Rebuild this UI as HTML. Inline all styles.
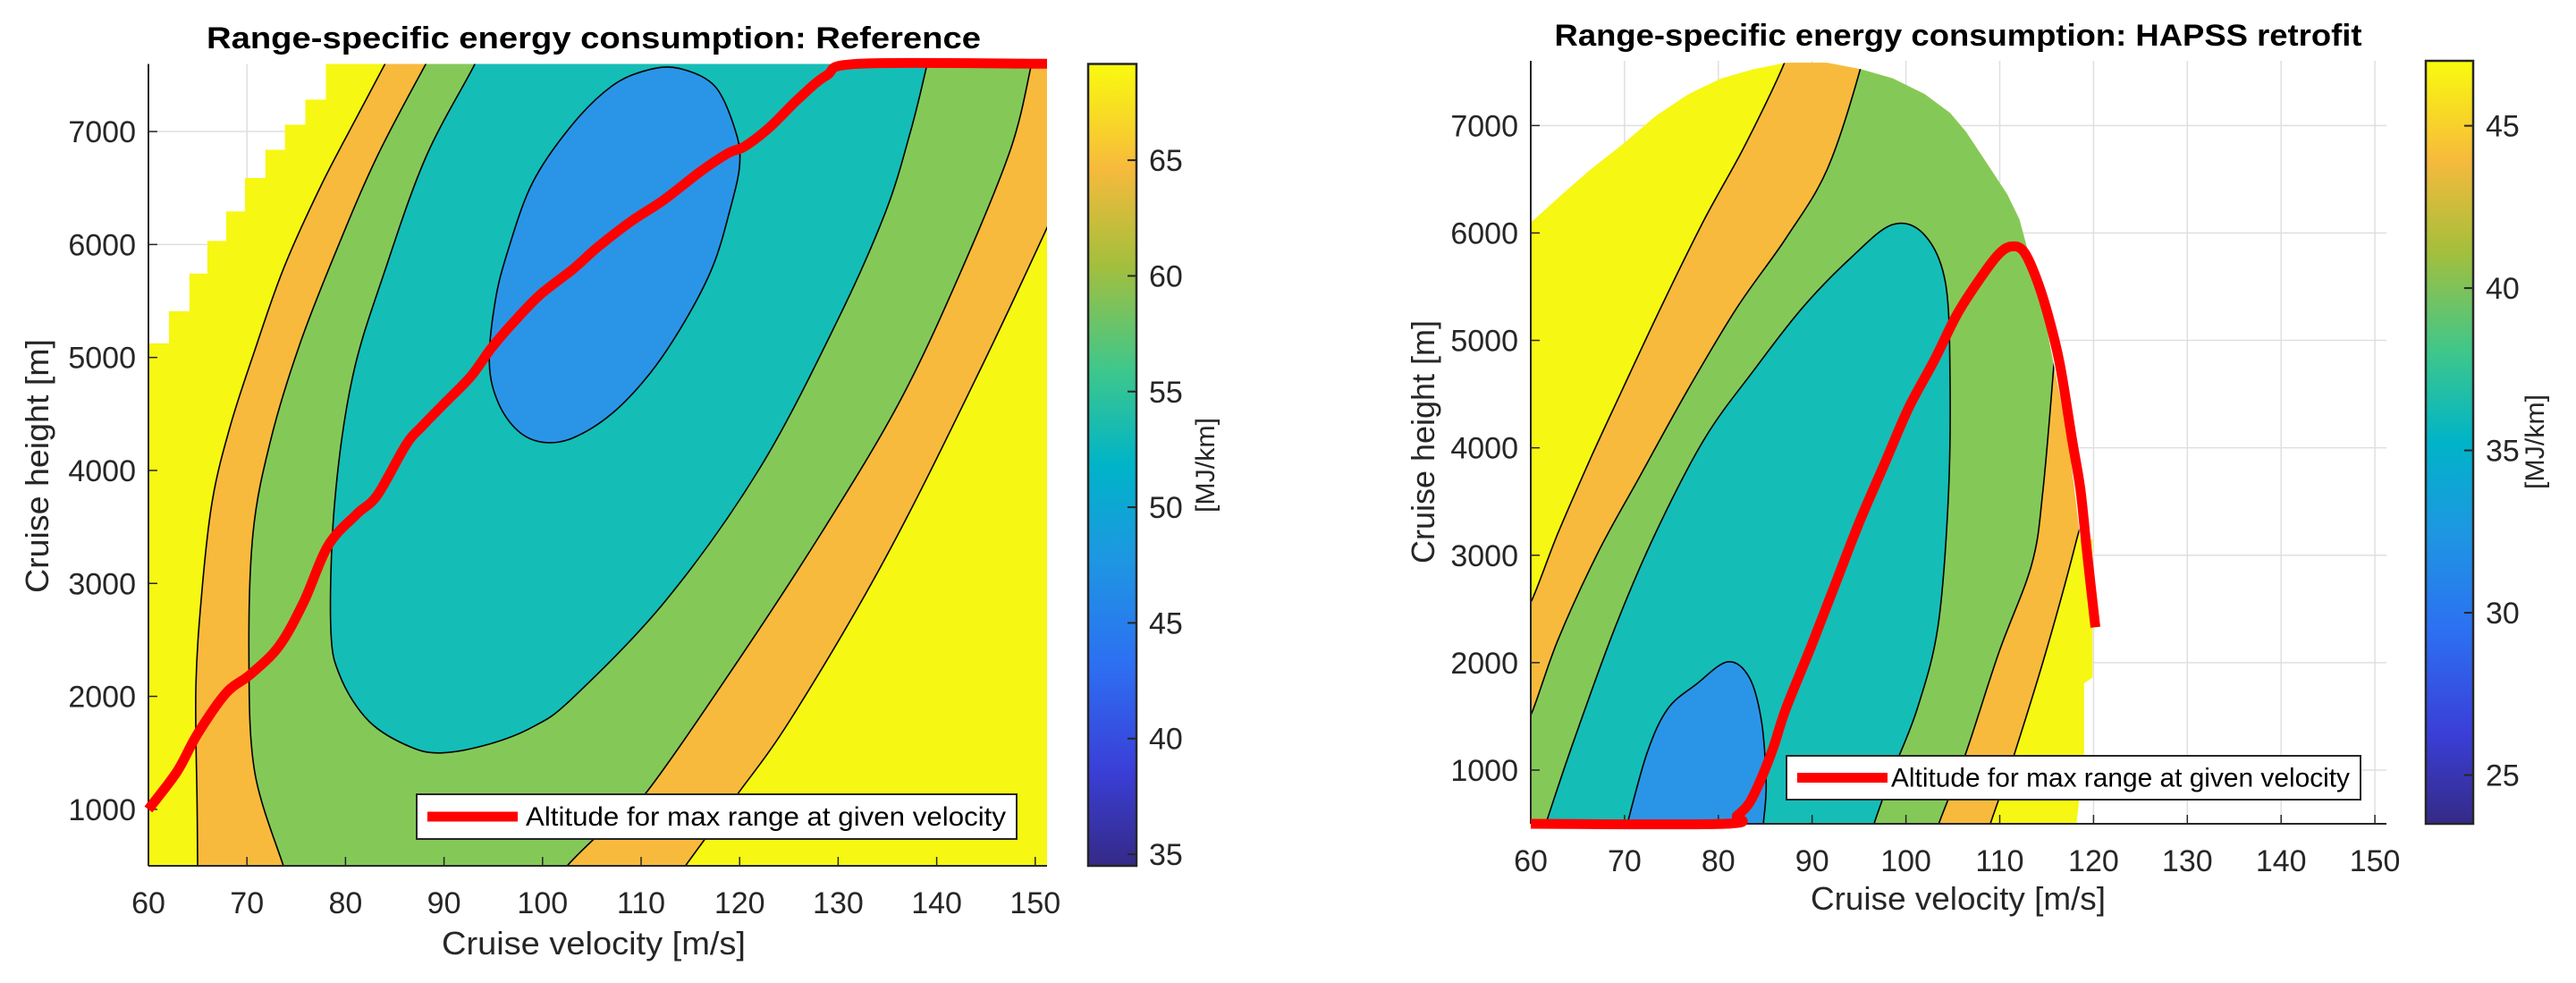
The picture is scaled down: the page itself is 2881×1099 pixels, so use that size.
<!DOCTYPE html>
<html><head><meta charset="utf-8"><style>
html,body{margin:0;padding:0;background:#fff;}
svg{display:block;font-family:"Liberation Sans",Arial,sans-serif;}
</style></head><body>
<svg id="fig" width="2881" height="1099" viewBox="0 0 2881 1099" xmlns="http://www.w3.org/2000/svg">
<defs>
<linearGradient id="parula" x1="0" y1="1" x2="0" y2="0">
<stop offset="0" stop-color="#352A87"/><stop offset="0.12" stop-color="#3A3FD8"/><stop offset="0.25" stop-color="#2D6FF2"/>
<stop offset="0.38" stop-color="#1E96E2"/><stop offset="0.5" stop-color="#00B4C8"/><stop offset="0.62" stop-color="#3FC78A"/>
<stop offset="0.75" stop-color="#A4BF3C"/><stop offset="0.87" stop-color="#F7BA3C"/><stop offset="1" stop-color="#F9FB0E"/>
</linearGradient>
<clipPath id="clipL"><rect x="166" y="71.5" width="1005" height="896.5"/></clipPath>
<clipPath id="clipR"><rect x="1712" y="68" width="957" height="853"/></clipPath>
<clipPath id="domeR"><polygon id="domePoly"/></clipPath>
<clipPath id="whiteL"><polygon id="whitePolyClip"/></clipPath>
</defs>
<g id="root"></g>
</svg>
<script>
// ---------- Left chart data (velocity m/s, height m) ----------
const velTicks = [60,70,80,90,100,110,120,130,140,150];
const hTicks = [1000,2000,3000,4000,5000,6000,7000];
const cbTicksL = [35,40,45,50,55,60,65];
const cbTicksR = [25,30,35,40,45];
const lineL_v = [60,62.9,64.98,67.88,70.37,73.27,75.76,78.25,81.15,83.23,86.13,87.79,90.28,92.77,94.84,97.33,99.82,103.1,105.6,108.9,112.3,116,118.9,120.5,123,125.9,128.8,132.2,151.2];
const lineL_h = [1000,1334,1667,2029,2196,2446,2835,3336,3614,3781,4225,4392,4615,4837,5087,5338,5560,5783,5977,6200,6394,6644,6811,6867,7034,7284,7495,7600,7600];
const validL_v = [60,62.07,64.15,65.97,67.88,69.79,71.86,73.85,75.93,78.0];
const validL_h = [5126,5410,5743,6033,6294,6589,6839,7061,7284,7606];
const orangeL = [[84.6,7700],[84.06,7606],[80.74,7061],[77.42,6505],[73.69,5783],[70.78,5060],[68.3,4392],[66.47,3725],[65.39,2891],[64.81,2057],[64.95,1000],[65.0,400],[113.8,400],[114.5,500],[119.5,1100],[125.3,1814],[134.8,3225],[144.3,4871],[152,6300],[153,7700]];
const greenL = [[88.8,7700],[88.2,7606],[83.23,6783],[79.08,5949],[75.35,5115],[72.44,4281],[70.62,3447],[70.2,2335],[70.78,1334],[73.69,500],[74,400],[102,400],[102.5,500],[106,800],[110,1090],[118.9,2194],[128.4,3461],[136.4,4635],[142.7,5810],[147.5,6844],[149.5,7548],[149.7,7700]];
const tealL = [[93.2,7700],[93.18,7606],[88.2,6783],[84.06,5783],[80.74,4837],[78.91,3725],[78.5,2613],[79.5,2168],[82.4,1779],[86.5,1556],[89.86,1500],[94.84,1584],[99,1730],[103,1981],[112.54,2852],[122.07,4023],[130,5340],[134.77,6280],[137.3,6985],[138.9,7548],[139.2,7700]];
const blueL = [[94.6,4950],[95.2,5500],[96.5,5950],[99,6550],[103,7060],[107,7400],[110.5,7540],[113.8,7560],[117.5,7400],[119.6,7000],[120,6700],[119,6300],[117.3,5810],[114.5,5330],[111,4870],[107,4500],[103,4285],[100,4250],[97.5,4350],[95.5,4600]];
// ---------- Right chart data ----------
const domeR = [[60,500],[60,6097],[61.1,6184],[63.7,6389],[66.4,6593],[69.8,6827],[73.3,7089],[76.8,7293],[80.3,7439],[83.8,7527],[87.2,7585],[91.6,7585],[95.1,7527],[98.6,7439],[102,7293],[104.7,7118],[106.4,6943],[108.6,6652],[110.8,6360],[112.1,6126],[113,5834],[114.7,5250],[116,4666],[117.3,4082],[118.6,3148],[119.9,3148],[119.9,1864],[119,1805],[119,1163],[118.2,500]];
const orangeR = [[60,2562],[62.9,3205],[66.4,3906],[69.8,4548],[74.2,5366],[78.5,6125],[82.9,6826],[87.0,7574],[87.5,7800],[125,7800],[121,4200],[118.2,3145],[115.1,2153],[111.6,1160],[109,500],[108.8,400],[59,400],[59,2562]];
const greenR = [[59,1511],[60,1511],[62.9,2212],[67.2,3030],[71.6,3730],[76.8,4548],[82,5307],[87.2,5950],[91.6,6592],[95.1,7515],[95.5,7800],[125,7800],[116.8,6000],[115.8,4800],[114.6,3600],[113.4,2912],[109.9,2094],[106.4,1160],[103.5,500],[103.3,400],[59,400]];
const tealR = [[61.2,400],[61.6,500],[64.6,1277],[69,2329],[73.3,3205],[78.5,4081],[83.8,4724],[89,5307],[94.2,5775],[98.6,6079],[102,5980],[104.2,5542],[104.7,4666],[104.5,3498],[103.4,2329],[101.2,1570],[98.6,987],[96.6,500],[96.4,400]];
const blueR = [[70.1,400],[70.3,500],[72.4,1160],[74.6,1570],[77.7,1803],[81,2008],[83.3,1862],[84.6,1453],[85.1,869],[84.8,500],[84.8,400]];
const lineR_v = [60,80.7,82.0,83.3,84.6,85.9,87.2,89.9,92.5,95.1,97.7,100.3,103.0,105.5,108.1,109.9,111.2,112.5,113.8,115.1,116.4,117.7,118.6,119.3,120.2];
const lineR_h = [500,500,576,693,927,1219,1570,2154,2738,3322,3848,4373,4811,5250,5600,5804,5874,5834,5600,5250,4783,4082,3615,3031,2330];

const NS='http://www.w3.org/2000/svg';
const root=document.getElementById('root');
const COL={yellow:'#F7F714',orange:'#F8BA3D',green:'#84C958',teal:'#15BDB7',blue:'#2A95E7'};
function mk(tag,attrs,parent){const e=document.createElementNS(NS,tag);for(const k in attrs)e.setAttribute(k,attrs[k]);(parent||root).appendChild(e);return e;}
const xL=v=>166+(v-60)*11.02, yL=h=>968-(h-500)*0.1263;
const xR=v=>1712+(v-60)*10.49, yR=h=>921-(h-500)*0.1201;
const pts=(arr,fx,fy)=>arr.map(p=>fx(p[0]).toFixed(1)+','+fy(p[1]).toFixed(1)).join(' ');
const isCorner=p=>p[1]<=400||p[1]>=7700||p[0]<=59||p[0]>=152;

// closed Catmull-Rom smooth path, corners (outside plot) get zero tangent
function smoothClosed(arr,fx,fy){
  const P=arr.map(p=>[fx(p[0]),fy(p[1])]);const n=P.length;
  const T=P.map((p,i)=>{ if(isCorner(arr[i])) return [0,0];
    const a=P[(i-1+n)%n],b=P[(i+1)%n]; return [(b[0]-a[0])/6,(b[1]-a[1])/6];});
  let d='M'+P[0][0].toFixed(1)+','+P[0][1].toFixed(1);
  for(let i=0;i<n;i++){
    const j=(i+1)%n,p1=P[i],p2=P[j];
    const c1=[p1[0]+T[i][0],p1[1]+T[i][1]], c2=[p2[0]-T[j][0],p2[1]-T[j][1]];
    d+=' C'+c1.map(v=>v.toFixed(1)).join(',')+' '+c2.map(v=>v.toFixed(1)).join(',')+' '+p2[0].toFixed(1)+','+p2[1].toFixed(1);
  }
  return d+'Z';
}
function smoothOpen(P){
  const n=P.length;let d='M'+P[0][0].toFixed(1)+','+P[0][1].toFixed(1);
  for(let i=0;i<n-1;i++){
    const p0=P[Math.max(i-1,0)],p1=P[i],p2=P[i+1],p3=P[Math.min(i+2,n-1)];
    const c1=[p1[0]+(p2[0]-p0[0])/6,p1[1]+(p2[1]-p0[1])/6];
    const c2=[p2[0]-(p3[0]-p1[0])/6,p2[1]-(p3[1]-p1[1])/6];
    d+=' C'+c1.map(v=>v.toFixed(1)).join(',')+' '+c2.map(v=>v.toFixed(1)).join(',')+' '+p2[0].toFixed(1)+','+p2[1].toFixed(1);
  }
  return d;
}

function text(str,x,y,size,opts,parent){
  const t=mk('text',Object.assign({x:x,y:y,'font-size':size,fill:'#262626'},opts||{}),parent);t.textContent=str;return t;}

function axes(fx,fy,x0,x1,y0,y1,name){
  const g=mk('g',{});
  
  
  velTicks.forEach(v=>{const t=text(String(v),fx(v),y1+53,34,{'text-anchor':'middle'},g);
    
    
    mk('line',{x1:fx(v),x2:fx(v),y1:y1,y2:y1-10,stroke:'#262626','stroke-width':1.5},g);});
  hTicks.forEach(h=>{const t=text(String(h),x0-14,fy(h)+12,34,{'text-anchor':'end'},g);
    
    
    mk('line',{x1:x0,x2:x0+10,y1:fy(h),y2:fy(h),stroke:'#262626','stroke-width':1.5},g);});
  mk('line',{x1:x0,x2:x0,y1:y0,y2:y1,stroke:'#262626','stroke-width':2},g);
  mk('line',{x1:x0,x2:x1,y1:y1,y2:y1,stroke:'#262626','stroke-width':2},g);
  return g;
}
function grid(fx,fy,x0,x1,y0,y1,clip){
  const g=mk('g',clip?{'clip-path':'url(#'+clip+')'}:{});
  
  
  velTicks.forEach(v=>mk('line',{x1:fx(v),x2:fx(v),y1:y0,y2:y1,stroke:'#dfdfdf','stroke-width':1.5},g));
  hTicks.forEach(h=>mk('line',{x1:x0,x2:x1,y1:fy(h),y2:fy(h),stroke:'#dfdfdf','stroke-width':1.5},g));
  return g;
}
function band(arr,fx,fy,color,name,parent){
  const p=mk('path',{d:smoothClosed(arr,fx,fy),fill:color,stroke:'#000','stroke-width':1.6},parent);
  
  
}
function colorbar(x0,x1,y0,y1,lo,hi,ticks,name,labx,laby){
  const g=mk('g',{});
  
  
  mk('rect',{x:x0,y:y0,width:x1-x0,height:y1-y0,fill:'url(#parula)',stroke:'#262626','stroke-width':2.5},g);
  const fy=v=>y1-(v-lo)*(y1-y0)/(hi-lo);
  ticks.forEach(v=>{mk('line',{x1:x1-10,x2:x1,y1:fy(v),y2:fy(v),stroke:'#262626','stroke-width':2},g);
    const t=text(String(v),x1+14,fy(v)+12,34,{},g);
    
    });
  const l=text('[MJ/km]',labx,laby,30,{'text-anchor':'middle','transform':'rotate(-90 '+labx+' '+laby+')','textLength':106,'lengthAdjust':'spacingAndGlyphs'},g);
  
  
}
function redLine(vs,hs,fx,fy,name){
  const P=vs.map((v,i)=>[fx(v),fy(hs[i])]);
  const p=mk('path',{d:smoothOpen(P),fill:'none',stroke:'#FF0000','stroke-width':11,'stroke-linejoin':'round','stroke-linecap':'butt'});
  
  
}
function legend(x0,y0,x1,y1,textX,textW,name){
  const g=mk('g',{});
  
  
  mk('rect',{x:x0,y:y0,width:x1-x0,height:y1-y0,fill:'#fff',stroke:'#262626','stroke-width':2},g);
  const ym=(y0+y1)/2;
  mk('line',{x1:x0+12,x2:x0+113,y1:ym,y2:ym,stroke:'#FF0000','stroke-width':11},g);
  text('Altitude for max range at given velocity',textX,ym+10,30,{fill:'#000',textLength:textW,lengthAdjust:'spacingAndGlyphs'},g);
}

// ================= LEFT =================
const gL=mk('g',{'clip-path':'url(#clipL)'});


const stair=[];
for(let i=0;i<validL_v.length;i++){
  const v=validL_v[i],h=validL_h[i];
  stair.push([v,h]);
  if(i<validL_v.length-1) stair.push([validL_v[i+1],h]);
}
const yellowPoly=[[59,400]].concat([[59,validL_h[0]]],stair,[[validL_v[validL_v.length-1],7800],[153,7800],[153,400]]);
const yp=mk('polygon',{points:pts(yellowPoly,xL,yL),fill:COL.yellow},gL);


band(orangeL,xL,yL,COL.orange,'band-orange',gL);
band(greenL,xL,yL,COL.green,'band-green',gL);
band(tealL,xL,yL,COL.teal,'band-teal',gL);
band(blueL,xL,yL,COL.blue,'band-blue',gL);
const whitePoly=[[59,validL_h[0]]].concat(stair,[[validL_v[validL_v.length-1],7800],[59,7800]]);
const wp=mk('polygon',{points:pts(whitePoly,xL,yL),fill:'#fff'},gL);


document.getElementById('whitePolyClip').setAttribute('points',pts(whitePoly,xL,yL));
grid(xL,yL,166,1171,71.5,968,'whiteL');
axes(xL,yL,166,1171,71.5,968,'left');
redLine(lineL_v,lineL_h,xL,yL,'max-range-line-reference');
legend(466,888,1137,938,588,537,'legend-reference');
colorbar(1217,1271,71.5,968,34.5,69.16,cbTicksL,'colorbar-reference',1358,520);
let t=text('Range-specific energy consumption: Reference',664,54,34,{'text-anchor':'middle','font-weight':'bold',fill:'#000',textLength:866,lengthAdjust:'spacingAndGlyphs'});


t=text('Cruise velocity [m/s]',664,1067,36,{'text-anchor':'middle',textLength:340,lengthAdjust:'spacingAndGlyphs'});


t=text('Cruise height [m]',54,521,36,{'text-anchor':'middle',transform:'rotate(-90 54 521)',textLength:284,lengthAdjust:'spacingAndGlyphs'});



// ================= RIGHT =================
grid(xR,yR,1712,2669,68,921,null);
document.getElementById('domePoly').setAttribute('points',pts(domeR,xR,yR));
const gR0=mk('g',{'clip-path':'url(#clipR)'});
const gR=mk('g',{'clip-path':'url(#domeR)'},gR0);


const dy=mk('polygon',{points:pts(domeR,xR,yR),fill:COL.yellow},gR);


band(orangeR,xR,yR,COL.orange,'band-orange',gR);
band(greenR,xR,yR,COL.green,'band-green',gR);
band(tealR,xR,yR,COL.teal,'band-teal',gR);
band(blueR,xR,yR,COL.blue,'band-blue',gR);
axes(xR,yR,1712,2669,68,921,'right');
redLine(lineR_v,lineR_h,xR,yR,'max-range-line-hapss');
legend(1998,845,2640,894,2115,513,'legend-hapss');
colorbar(2713,2766,68,921,23.5,47,cbTicksR,'colorbar-hapss',2845,494);
t=text('Range-specific energy consumption: HAPSS retrofit',2190,51,34,{'text-anchor':'middle','font-weight':'bold',fill:'#000',textLength:903,lengthAdjust:'spacingAndGlyphs'});


t=text('Cruise velocity [m/s]',2190,1017,36,{'text-anchor':'middle',textLength:330,lengthAdjust:'spacingAndGlyphs'});


t=text('Cruise height [m]',1604,494,36,{'text-anchor':'middle',transform:'rotate(-90 1604 494)',textLength:272,lengthAdjust:'spacingAndGlyphs'});


</script>
</body></html>
